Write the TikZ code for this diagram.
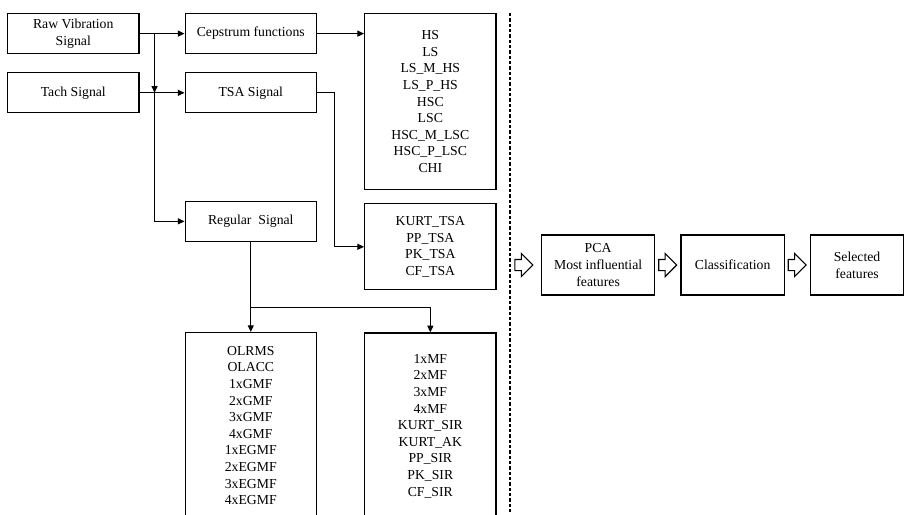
\documentclass[tikz,border=0pt]{standalone}
\usepackage{fontspec}
\setmainfont{Liberation Serif}
\usepackage{tikz}
\usetikzlibrary{arrows.meta,positioning,shapes.arrows}

\begin{document}
\begin{tikzpicture}[
  x=0.75pt, y=-0.75pt,
  box/.style={draw, line width=0.9pt, minimum width=98.5pt, minimum height=30pt, align=center, inner sep=1pt, font=\fontsize{10.3pt}{12.45pt}\selectfont},
  arr/.style={-{Triangle[length=5pt,width=4.5pt]}, line width=0.8pt},
  fat/.style={single arrow, draw, line width=0.8pt, minimum height=13.5pt, inner xsep=0pt, inner ysep=3.75pt, single arrow head extend=4.5pt}
]
  \useasboundingbox (0,0) rectangle (906,514);
  \clip (0,0) rectangle (906,514);

  % signals
  \node[box, anchor=north west] (raw) at (7,13) {Raw Vibration\\Signal};
  \node[box, below=13.5pt of raw] (tach) {Tach Signal};
  \node[box, right=33.75pt of raw] (ceps) {Cepstrum functions};
  \node[box, right=33.75pt of tach] (tsa) {TSA Signal};
  \node[box, below=65.5pt of tsa] (reg) {Regular\ \ Signal};

  % feature lists
  \node[box, minimum height=132pt, right=35.25pt of ceps.north east, anchor=north west] (cepsfeat)
    {HS\\LS\\LS\_M\_HS\\LS\_P\_HS\\HSC\\LSC\\HSC\_M\_LSC\\HSC\_P\_LSC\\CHI};
  \node[box, minimum height=64.5pt, below=9.75pt of cepsfeat] (tsafeat)
    {KURT\_TSA\\PP\_TSA\\PK\_TSA\\CF\_TSA};
  \node[box, minimum height=139.5pt, below=67.5pt of reg] (regfeat)
    {OLRMS\\OLACC\\1xGMF\\2xGMF\\3xGMF\\4xGMF\\1xEGMF\\2xEGMF\\3xEGMF\\4xEGMF};
  \node[box, minimum height=139.5pt, below=31.5pt of tsafeat] (mffeat)
    {1xMF\\2xMF\\3xMF\\4xMF\\KURT\_SIR\\KURT\_AK\\PP\_SIR\\PK\_SIR\\CF\_SIR};

  \coordinate (split) at ([xshift=11.25pt]raw.east);
  \coordinate (fork) at ([yshift=-49.5pt]reg.south);

  \draw[arr] (raw) -- (ceps);
  \draw[arr] (tach) -- (tsa);
  \draw[arr] (split) -- (split |- tach);
  \draw[arr] (split |- tach) |- (reg);
  \draw[arr] (ceps.east) -- (ceps.east -| cepsfeat.west);
  \draw[arr] (tsa.east) -- ++(17,0) |- (tsafeat.west);
  \draw[arr] (reg.south) -- (regfeat.north);
  \draw[arr] (fork) -| (mffeat.north);

  % separator
  \coordinate (septop) at (510,13);
  \coordinate (sepbot) at (510,514);
  \draw[dashed, line width=0.8pt, dash pattern=on 2.5pt off 1.5pt] (septop) -- (sepbot);

  % selection
  \node[box, minimum width=84.75pt, minimum height=45pt, anchor=west] (pca) at (541,265)
    {PCA\\Most influential\\features};
  \node[fat, left=5.5pt of pca] (a1) {};
  \node[fat, right=2.25pt of pca] (a2) {};
  \node[box, minimum width=77.25pt, minimum height=45pt, right=2.25pt of a2] (cls) {Classification};
  \node[fat, right=2.25pt of cls] (a3) {};
  \node[box, minimum width=69.75pt, minimum height=45pt, right=2.25pt of a3] (sel) {Selected\\features};
\end{tikzpicture}
\end{document}
